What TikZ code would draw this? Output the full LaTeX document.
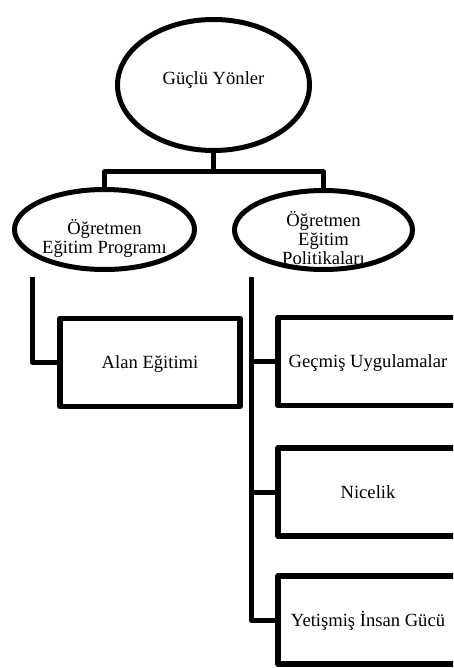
\documentclass[tikz,border=0pt]{standalone}
\usepackage{fontspec}
\setmainfont{Liberation Serif}
\usetikzlibrary{shapes.geometric}
\begin{document}
\begin{tikzpicture}[x=1pt,y=-1pt,
  every node/.style={font=\fontsize{18.6}{19}\selectfont, text=black},
  conn/.style={line width=5pt, draw=black, line join=round},
  oval/.style={ellipse, draw=black, line width=5pt, inner sep=0pt},
  boxnode/.style={rectangle, draw=black, line width=5.5pt, line join=round, inner sep=0pt,
    minimum width=180pt, minimum height=88pt, text height=12pt, text depth=0pt},
  lbl/.style={anchor=base, inner sep=0pt}]
\useasboundingbox (0,0) rectangle (453,668);
\clip (0,0) rectangle (453,668);
% ovals
\node[oval, minimum width=192pt, minimum height=131pt] (gy) at (213.5,85) {};
\node[lbl] (gyt) at (213.5,85) {Güçlü Yönler};
\node[oval, minimum width=180pt, minimum height=80pt] (ogp) at (104.5,229.5) {};
\node[lbl] (ogp1) at (104.5,234) {Öğretmen};
\node[lbl] (ogp2) at (104.5,253) {Eğitim Programı};
\node[oval, minimum width=178pt, minimum height=79pt] (oep) at (323.5,230) {};
\node[lbl] (oep1) at (323.5,226) {Öğretmen};
\node[lbl] (oep2) at (323.5,245) {Eğitim};
\node[lbl] (oep3) at (323.5,264) {Politikaları};
% boxes
\node[boxnode] (alan) at (150,362.5) {Alan Eğitimi};
\node[boxnode] (gec) at (368,361.5) {Geçmiş Uygulamalar};
\node[boxnode] (nic) at (368,492) {Nicelik};
\node[boxnode] (yet) at (368,620) {Yetişmiş İnsan Gücü};
% connectors
\coordinate (bar) at (213.5,172);
\draw[conn] (gy.south) -- (bar);
\draw[conn] (ogp.north) |- (bar) -| (oep.north);
\coordinate (l0) at (32.5,277);
\draw[conn] (l0) |- (alan.west);
\coordinate (r0) at (251,277);
\draw[conn] (r0) |- (yet.west);
\draw[conn] (r0 |- gec.west) -- (gec.west);
\draw[conn] (r0 |- nic.west) -- (nic.west);
\end{tikzpicture}
\end{document}
